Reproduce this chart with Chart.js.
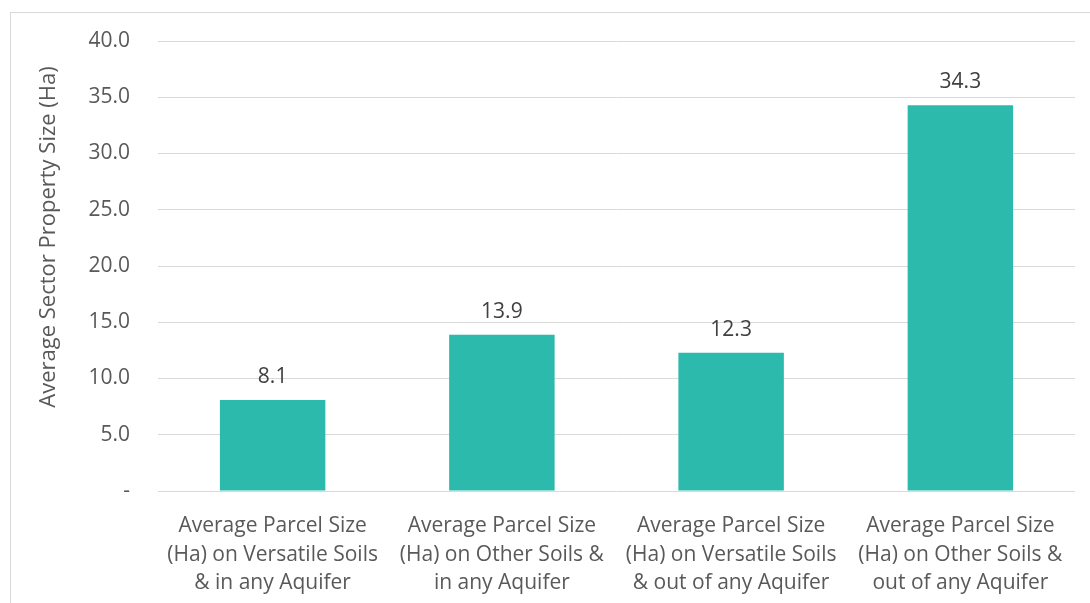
<!DOCTYPE html>
<html>
<head>
<meta charset="utf-8">
<script src="https://cdn.jsdelivr.net/npm/chart.js@4/dist/chart.umd.min.js"></script>
<style>
  html, body { margin: 0; padding: 0; background: #fff; overflow: hidden; }
  #frame { position: absolute; left: 10px; top: 12px; width: 2000px; height: 2000px; border: 1px solid #d9d9d9; }
  #grafico { position: absolute; left: 0; top: 0; }
</style>
</head>
<body>
<div id="frame"></div>
<canvas id="grafico" width="1090" height="603"></canvas>
<script>
// dados do gráfico
const categorias = [
  ['Average Parcel Size', '(Ha) on Versatile Soils', '& in any Aquifer'],
  ['Average Parcel Size', '(Ha) on Other Soils &', 'in any Aquifer'],
  ['Average Parcel Size', '(Ha) on Versatile Soils', '& out of any Aquifer'],
  ['Average Parcel Size', '(Ha) on Other Soils &', 'out of any Aquifer']
];
const valores = [8.1, 13.9, 12.3, 34.3];
const tituloY = 'Average Sector Property Size (Ha)';

const fonte = "'Open Sans', sans-serif";
const cinza = '#595959';

// rótulos em cima das barras + título do eixo Y
const rotulos = {
  id: 'rotulos',
  afterDatasetsDraw(chart) {
    const ctx = chart.ctx;
    const meta = chart.getDatasetMeta(0);
    ctx.save();
    ctx.font = '21px ' + fonte;
    ctx.fillStyle = '#404040';
    ctx.textAlign = 'center';
    ctx.textBaseline = 'middle';
    meta.data.forEach((bar, i) => {
      ctx.fillText(valores[i].toFixed(1), bar.x, bar.y - 23);
    });
    ctx.restore();

    ctx.save();
    ctx.font = '22px ' + fonte;
    ctx.fillStyle = cinza;
    ctx.textAlign = 'center';
    ctx.textBaseline = 'middle';
    ctx.translate(49, 237);
    ctx.rotate(-Math.PI / 2);
    ctx.fillText(tituloY, 0, 0);
    ctx.restore();
  }
};

new Chart(document.getElementById('grafico'), {
  type: 'bar',
  data: {
    labels: categorias,
    datasets: [{
      data: valores,
      backgroundColor: '#2BBAAC',
      categoryPercentage: 0.92,
      barPercentage: 0.5
    }]
  },
  options: {
    responsive: false,
    animation: false,
    layout: { padding: { left: 0, top: 41, right: 15, bottom: 0 } },
    plugins: {
      legend: { display: false },
      tooltip: { enabled: false }
    },
    scales: {
      x: {
        grid: { display: false },
        border: { display: false },
        ticks: {
          color: cinza,
          font: { family: fonte, size: 21, lineHeight: 1.357 },
          padding: 13,
          maxRotation: 0,
          autoSkip: false
        },
        afterFit(scale) { scale.height = 112; }
      },
      y: {
        min: 0,
        max: 40,
        grid: { color: '#d9d9d9', drawTicks: false },
        border: { display: false },
        ticks: {
          stepSize: 5,
          color: cinza,
          padding: 28,
          font: { family: fonte, size: 21 },
          callback: (v) => v === 0 ? '-' : v.toFixed(1)
        },
        afterFit(scale) { scale.width = 158; }
      }
    }
  },
  plugins: [rotulos]
});
</script>
</body>
</html>
